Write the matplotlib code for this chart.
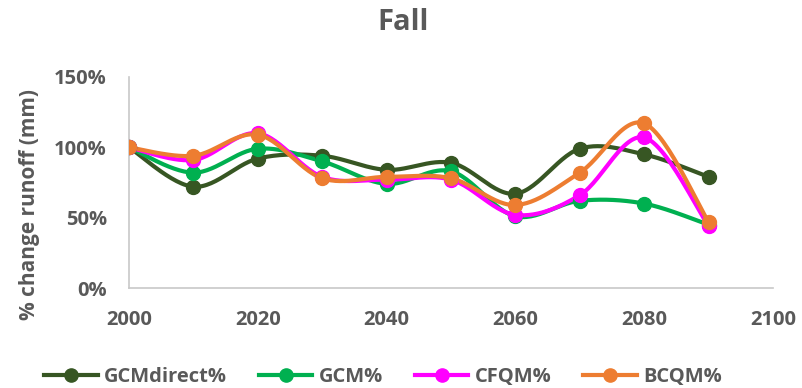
import numpy as np
import matplotlib
matplotlib.use("Agg")
import matplotlib.pyplot as plt
from matplotlib.lines import Line2D
from matplotlib.ticker import PercentFormatter

plt.rcParams['font.family'] = ['Open Sans', 'DejaVu Sans']

years = [2000, 2010, 2020, 2030, 2040, 2050, 2060, 2070, 2080, 2090]
gcm_direct = [100, 72, 92, 94, 84, 89, 67, 99, 95, 79]
gcm = [100, 82, 99, 90, 74, 83, 51, 62, 60, 45]
cfqm = [100, 91, 110, 79, 77, 77, 52, 66, 107, 44]
bcqm = [100, 94, 109, 78, 79, 78, 59, 82, 117, 47]

series = [
    ("GCMdirect%", gcm_direct, "#375623"),
    ("GCM%", gcm, "#00B050"),
    ("CFQM%", cfqm, "#FF00FF"),
    ("BCQM%", bcqm, "#ED7D31"),
]

TXT = "#595959"


def smooth(x, y, n=30):
    """Catmull-Rom style Bezier smoothing through all points."""
    x = np.asarray(x, float)
    y = np.asarray(y, float)
    pts = np.column_stack([x, y])
    out = []
    for i in range(len(pts) - 1):
        p0 = pts[i - 1] if i > 0 else pts[i]
        p1 = pts[i]
        p2 = pts[i + 1]
        p3 = pts[i + 2] if i + 2 < len(pts) else pts[i + 1]
        c1 = p1 + (p2 - p0) / 6.0
        c2 = p2 - (p3 - p1) / 6.0
        t = np.linspace(0, 1, n)[:, None]
        seg = ((1 - t) ** 3) * p1 + 3 * ((1 - t) ** 2) * t * c1 + 3 * (1 - t) * t ** 2 * c2 + t ** 3 * p2
        out.append(seg if i == 0 else seg[1:])
    seg = np.vstack(out)
    return seg[:, 0], seg[:, 1]


fig = plt.figure(figsize=(8.03, 3.88), dpi=100)
ax = fig.add_axes([129 / 803, 1 - 288 / 388, (773 - 129) / 803, (288 - 77) / 388])

handles = []
for name, vals, col in series:
    v = np.array(vals) / 100.0
    sx, sy = smooth(years, v)
    ax.plot(sx, sy, color=col, lw=3.0, solid_capstyle='round', zorder=2)
    ax.plot(years, v, 'o', color=col, ms=10, zorder=3)
    handles.append(Line2D([], [], color=col, lw=3.0, marker='o', ms=9.5, label=name))

ax.set_xlim(2000, 2100)
ax.set_ylim(0, 1.5)
ax.set_xticks(np.arange(2000, 2101, 20))
ax.set_yticks([0, 0.5, 1.0, 1.5])
ax.yaxis.set_major_formatter(PercentFormatter(1.0, decimals=0))

for s in ['top', 'right']:
    ax.spines[s].set_visible(False)
for s in ['left', 'bottom']:
    ax.spines[s].set_color('#C8C8C8')
    ax.spines[s].set_linewidth(1.2)
ax.tick_params(length=0, colors=TXT, labelsize=14.5)
ax.tick_params(axis='x', pad=16)
ax.tick_params(axis='y', pad=16)
for lab in ax.get_xticklabels() + ax.get_yticklabels():
    lab.set_fontweight('bold')

fig.text(30 / 803, 1 - 204 / 388, "% change runoff (mm)", rotation=90, ha='center', va='center',
         fontsize=15, fontweight='bold', color=TXT)
fig.text(403 / 803, 1 - 23 / 388, "Fall", ha='center', va='center', fontsize=21,
         fontweight='bold', color=TXT)

leg = fig.legend(handles=handles, loc='center', bbox_to_anchor=(383 / 803, 1 - 377 / 388), ncol=4,
                 frameon=False, fontsize=14.5, handlelength=2.65, handletextpad=0.3,
                 columnspacing=1.6, borderpad=0, borderaxespad=0)
for t in leg.get_texts():
    t.set_color(TXT)
    t.set_fontweight('bold')

fig.savefig("out.png", dpi=100)
